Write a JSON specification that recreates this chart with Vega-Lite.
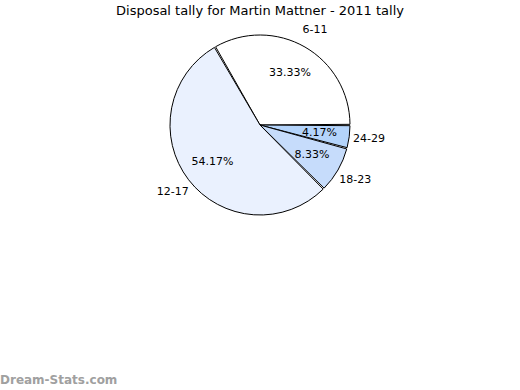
{
  "$schema": "https://vega.github.io/schema/vega-lite/v6.json",
  "width": 520,
  "height": 186,
  "padding": {"top": 4, "left": 0, "right": 0, "bottom": 0},
  "autosize": {"type": "pad"},
  "background": "white",
  "config": {"view": {"stroke": null}, "font": "DejaVu Sans"},
  "title": {"text": "Disposal tally for Martin Mattner - 2011 tally", "fontSize": 13, "fontWeight": "normal", "font": "DejaVu Sans", "color": "black", "anchor": "middle", "offset": 6},
  "layer": [
    {
      "data": {"values": [
        {"group": "6-11", "count": 8, "ord": 1, "pct": "33.33%"},
        {"group": "24-29", "count": 1, "ord": 2, "pct": "4.17%"},
        {"group": "18-23", "count": 2, "ord": 3, "pct": "8.33%"},
        {"group": "12-17", "count": 13, "ord": 4, "pct": "54.17%"}
      ]},
      "encoding": {
        "theta": {"field": "count", "type": "quantitative", "stack": true, "scale": {"range": [-0.5236, 5.7596]}},
        "order": {"field": "ord", "type": "quantitative"}
      },
      "layer": [
        {
          "mark": {"type": "arc", "outerRadius": 90, "stroke": "black", "strokeWidth": 1, "padAngle": 0.015},
          "encoding": {
            "color": {"field": "group", "type": "nominal", "legend": null,
              "scale": {"domain": ["6-11", "12-17", "18-23", "24-29"], "range": ["#ffffff", "#eaf1fe", "#c6dcfb", "#b4d4fb"]}}
          }
        },
        {
          "mark": {"type": "text", "radius": 60, "fontSize": 11, "font": "DejaVu Sans", "color": "black"},
          "encoding": {"text": {"field": "pct"}}
        },
        {
          "mark": {"type": "text", "radius": 110, "fontSize": 11, "font": "DejaVu Sans", "color": "black"},
          "encoding": {"text": {"field": "group"}}
        }
      ]
    },
    {
      "data": {"values": [{"label": "Dream-Stats.com"}]},
      "mark": {"type": "text", "align": "left", "baseline": "alphabetic", "fontSize": 12, "fontWeight": "bold", "font": "DejaVu Sans", "color": "#a0a0a0"},
      "encoding": {"text": {"field": "label"}, "x": {"value": 0}, "y": {"value": 352}}
    }
  ]
}
